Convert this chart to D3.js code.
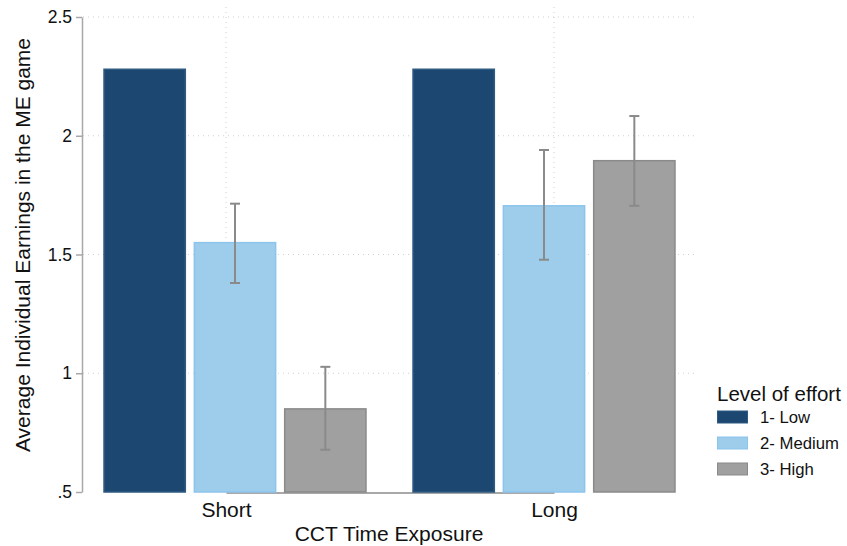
<!doctype html>
<html lang="en">
<head>
<meta charset="utf-8">
<title>Average Individual Earnings in the ME game</title>
<script src="https://cdn.jsdelivr.net/npm/d3@7"></script>
<style>
	body { margin: 0; background: #fff; }
	svg { font-family: "Liberation Sans", Arial, sans-serif; display: block; }
</style>
</head>
<body>
<div id="chart"></div>
<script>
/* data */
var categories = ['Short', 'Long'];
var levels = ['1- Low', '2- Medium', '3- High'];
var lowMean = [2.28, 2.28];
var mediumMean = [1.55, 1.705];
var highMean = [0.85, 1.895];
var mediumLo = [1.38, 1.478];
var mediumHi = [1.714, 1.94];
var highLo = [0.678, 1.705];
var highHi = [1.027, 2.083];
var yTicks = [0.5, 1, 1.5, 2, 2.5];
var yTickLabels = ['.5', '1', '1.5', '2', '2.5'];

var colors = {
	'1- Low': { fill: '#1c4771', stroke: '#2f5a82' },
	'2- Medium': { fill: '#9dcdea', stroke: '#8cc4ec' },
	'3- High': { fill: '#a0a0a0', stroke: '#8a8a8a' }
};

var rows = [];
categories.forEach(function(c, i){
	rows.push({ cat: c, level: levels[0], value: lowMean[i], lo: null, hi: null });
	rows.push({ cat: c, level: levels[1], value: mediumMean[i], lo: mediumLo[i], hi: mediumHi[i] });
	rows.push({ cat: c, level: levels[2], value: highMean[i], lo: highLo[i], hi: highHi[i] });
});

/* view */
var size = { width: 847, height: 546 };
var plot = { left: 82, right: 695, top: 17, bottom: 492 };

var svg = d3.select('#chart').append('svg')
	.attr('width', size.width)
	.attr('height', size.height);

var y = d3.scaleLinear().domain([0.5, 2.5]).range([plot.bottom, plot.top]);

var x0 = d3.scaleBand().domain(categories)
	.range([99.5, 679.5])
	.paddingInner(0.123)
	.paddingOuter(0);

var x1 = d3.scaleBand().domain(levels)
	.range([0, x0.bandwidth()])
	.paddingInner(0.1)
	.paddingOuter(0.05);

// axis tick positions for categories
var xAxisScale = d3.scalePoint().domain(categories).range([226, 554]);

// grid lines
var grid = svg.append('g').attr('class', 'grid');
grid.selectAll('line.h')
	.data(yTicks.slice(1))
	.enter().append('line')
	.attr('class', 'h')
	.attr('x1', plot.left + 1)
	.attr('x2', plot.right)
	.attr('y1', function(d){ return y(d); })
	.attr('y2', function(d){ return y(d); })
	.style('stroke', '#cfcfcf')
	.style('stroke-width', 1)
	.style('stroke-dasharray', '1,4');
grid.selectAll('line.v')
	.data(categories)
	.enter().append('line')
	.attr('class', 'v')
	.attr('x1', function(d){ return xAxisScale(d); })
	.attr('x2', function(d){ return xAxisScale(d); })
	.attr('y1', 7)
	.attr('y2', plot.bottom)
	.style('stroke', '#cfcfcf')
	.style('stroke-width', 1)
	.style('stroke-dasharray', '1,4');

// x axis line
svg.append('g')
	.attr('transform', 'translate(0,' + (plot.bottom + 0.5) + ')')
	.call(d3.axisBottom(xAxisScale).tickSize(0))
	.call(function(g){
		g.select('.domain').style('stroke', '#a8a8a8').style('stroke-width', 2);
		g.selectAll('text').style('font-size', '21px').style('fill', '#111')
			.attr('y', 24.5).attr('dy', 0);
	});

// bars
var bars = svg.append('g').attr('class', 'bars');
bars.selectAll('rect')
	.data(rows)
	.enter().append('rect')
	.attr('x', function(d){ return x0(d.cat) + x1(d.level); })
	.attr('width', x1.bandwidth())
	.attr('y', function(d){ return y(d.value); })
	.attr('height', function(d){ return y(0.5) - y(d.value); })
	.style('fill', function(d){ return colors[d.level].fill; })
	.style('stroke', function(d){ return colors[d.level].stroke; })
	.style('stroke-width', 1.5);

// error bars
var errs = svg.append('g').attr('class', 'errors')
	.selectAll('g')
	.data(rows.filter(function(d){ return d.lo !== null; }))
	.enter().append('g');
function cx(d){ return x0(d.cat) + x1(d.level) + x1.bandwidth() / 2; }
errs.append('line')
	.attr('x1', cx).attr('x2', cx)
	.attr('y1', function(d){ return y(d.lo); })
	.attr('y2', function(d){ return y(d.hi); })
	.style('stroke', '#8a8a8a').style('stroke-width', 2);
errs.append('line')
	.attr('x1', function(d){ return cx(d) - 5; })
	.attr('x2', function(d){ return cx(d) + 5; })
	.attr('y1', function(d){ return y(d.lo); })
	.attr('y2', function(d){ return y(d.lo); })
	.style('stroke', '#8a8a8a').style('stroke-width', 2);
errs.append('line')
	.attr('x1', function(d){ return cx(d) - 5; })
	.attr('x2', function(d){ return cx(d) + 5; })
	.attr('y1', function(d){ return y(d.hi); })
	.attr('y2', function(d){ return y(d.hi); })
	.style('stroke', '#8a8a8a').style('stroke-width', 2);

// y axis
svg.append('g')
	.attr('transform', 'translate(' + plot.left + ',0)')
	.call(d3.axisLeft(y).tickValues(yTicks)
		.tickFormat(function(d, i){ return yTickLabels[i]; })
		.tickSize(6).tickSizeOuter(0).tickPadding(4))
	.call(function(g){
		g.select('.domain').style('stroke', '#a8a8a8').style('stroke-width', 1.5);
		g.selectAll('.tick line').style('stroke', '#a8a8a8').style('stroke-width', 1.5);
		g.selectAll('text').style('font-size', '17.5px').style('fill', '#111');
	});

// axis titles
svg.append('text')
	.attr('transform', 'translate(30,245) rotate(-90)')
	.attr('text-anchor', 'middle')
	.style('font-size', '21px')
	.style('fill', '#111')
	.text('Average Individual Earnings in the ME game');

svg.append('text')
	.attr('x', 389)
	.attr('y', 541)
	.attr('text-anchor', 'middle')
	.style('font-size', '21px')
	.style('fill', '#111')
	.text('CCT Time Exposure');

// legend
var legend = svg.append('g').attr('transform', 'translate(717,0)');
legend.append('text')
	.attr('x', 0).attr('y', 401)
	.style('font-size', '20.5px').style('fill', '#111')
	.text('Level of effort');
var item = legend.selectAll('g.item')
	.data(levels)
	.enter().append('g')
	.attr('class', 'item')
	.attr('transform', function(d, i){ return 'translate(0,' + (417 + i * 26) + ')'; });
item.append('rect')
	.attr('x', 0.5).attr('y', -6)
	.attr('width', 30).attr('height', 12)
	.style('fill', function(d){ return colors[d].fill; })
	.style('stroke', function(d){ return colors[d].stroke; })
	.style('stroke-width', 1);
item.append('text')
	.attr('x', 43).attr('y', 6)
	.style('font-size', '16.7px').style('fill', '#111')
	.text(function(d){ return d; });
</script>
</body>
</html>
